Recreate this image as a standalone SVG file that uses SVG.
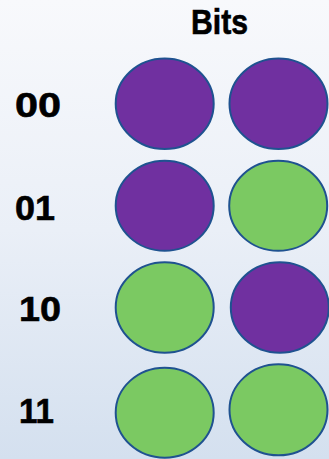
<svg xmlns="http://www.w3.org/2000/svg" width="329" height="459" viewBox="0 0 329 459">
  <defs>
    <linearGradient id="bg" x1="0" y1="0" x2="0" y2="1">
      <stop offset="0" stop-color="#f8f9fc"/>
      <stop offset="0.5" stop-color="#eaeff7"/>
      <stop offset="1" stop-color="#d4e0ef"/>
    </linearGradient>
  </defs>
  <style>
    .lbl { font-family: "Liberation Sans", Arial, sans-serif; font-weight: bold; font-size: 35px; fill: #000; stroke: #000; stroke-width: 0.6; }
    .bit { stroke: #1f5290; stroke-width: 2; }
    .one { fill: #7030a0; }
    .zero { fill: #7bc962; }
  </style>
  <rect x="0" y="0" width="329" height="459" fill="url(#bg)"/>
  <g id="title">
    <text class="lbl" x="191" y="33.5" textLength="57" lengthAdjust="spacingAndGlyphs">Bits</text>
  </g>
  <g id="row00">
    <text class="lbl" x="15" y="117" textLength="46" lengthAdjust="spacingAndGlyphs">00</text>
    <ellipse class="bit one" cx="164.7" cy="103.7" rx="49" ry="45.3"/>
    <ellipse class="bit one" cx="278.5" cy="103.7" rx="49" ry="45.3"/>
  </g>
  <g id="row01">
    <text class="lbl" x="15" y="219.5" textLength="40" lengthAdjust="spacingAndGlyphs">01</text>
    <ellipse class="bit one" cx="164.7" cy="205.8" rx="49" ry="45"/>
    <ellipse class="bit zero" cx="278.2" cy="205.8" rx="49" ry="45"/>
  </g>
  <g id="row10">
    <text class="lbl" x="19" y="321" textLength="42" lengthAdjust="spacingAndGlyphs">10</text>
    <ellipse class="bit zero" cx="164.7" cy="307.5" rx="49" ry="45.2"/>
    <ellipse class="bit one" cx="279.8" cy="307.5" rx="49" ry="45.2"/>
  </g>
  <g id="row11">
    <text class="lbl" x="19" y="422.7" textLength="35" lengthAdjust="spacingAndGlyphs">11</text>
    <ellipse class="bit zero" cx="164.7" cy="412.7" rx="49" ry="45"/>
    <ellipse class="bit zero" cx="278.5" cy="409.8" rx="49" ry="45.5"/>
  </g>
  <g id="connectors"></g>
</svg>
